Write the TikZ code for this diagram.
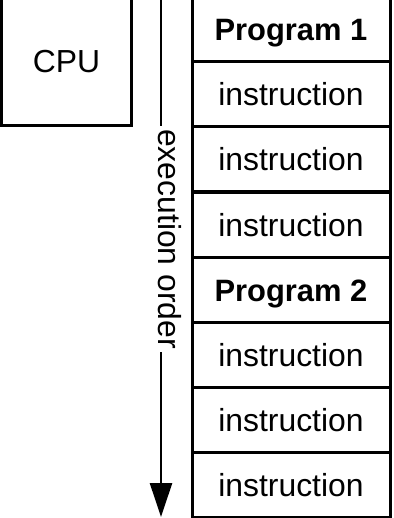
\documentclass[tikz,border=0pt]{standalone}
\usepackage{fontspec}
\setmainfont{Liberation Sans}
\usetikzlibrary{arrows.meta}
\begin{document}
\begin{tikzpicture}[x=1bp,y=1bp,
  frame/.style={draw=black,line width=3bp},
  txt/.style={font=\fontsize{32}{38}\selectfont},
  cell/.style={frame,txt,minimum width=198bp,minimum height=65bp,inner sep=0pt,
    text height=23bp,text depth=0pt},
  headcell/.style={cell,font=\fontsize{31}{37}\selectfont\bfseries},
  flow/.style={draw=black,line width=2.5bp}]
\useasboundingbox (0,0) rectangle (393,-518);
\clip (0,0) rectangle (393,-518);

% processor
\node[frame,txt,minimum width=129bp,minimum height=129bp,inner sep=0pt,
  text height=23bp,text depth=0pt] (cpu) at (66.5,-61.5) {CPU};

% memory column
\node[headcell] (p1)  at (291,-29.5)  {Program 1};
\node[cell]     (i11) at (291,-94.5)  {instruction};
\node[cell]     (i12) at (291,-159.5) {instruction};
\node[cell]     (i13) at (291,-224.5) {instruction};
\node[headcell] (p2)  at (291,-289.5) {Program 2};
\node[cell]     (i21) at (291,-354.5) {instruction};
\node[cell]     (i22) at (291,-419.5) {instruction};
\node[cell]     (i23) at (291,-484.5) {instruction};

% execution order arrow
\node[txt,rotate=-90,anchor=mid,inner sep=3bp] (ord) at (161,-239) {execution order};
\coordinate (top) at (161,5);
\coordinate (tip) at (161,-517);
\draw[flow] (top) -- (ord.mid west);
\draw[flow,-{Triangle[length=34bp,width=22bp]}] (ord.mid east) -- (tip);
\end{tikzpicture}
\end{document}
